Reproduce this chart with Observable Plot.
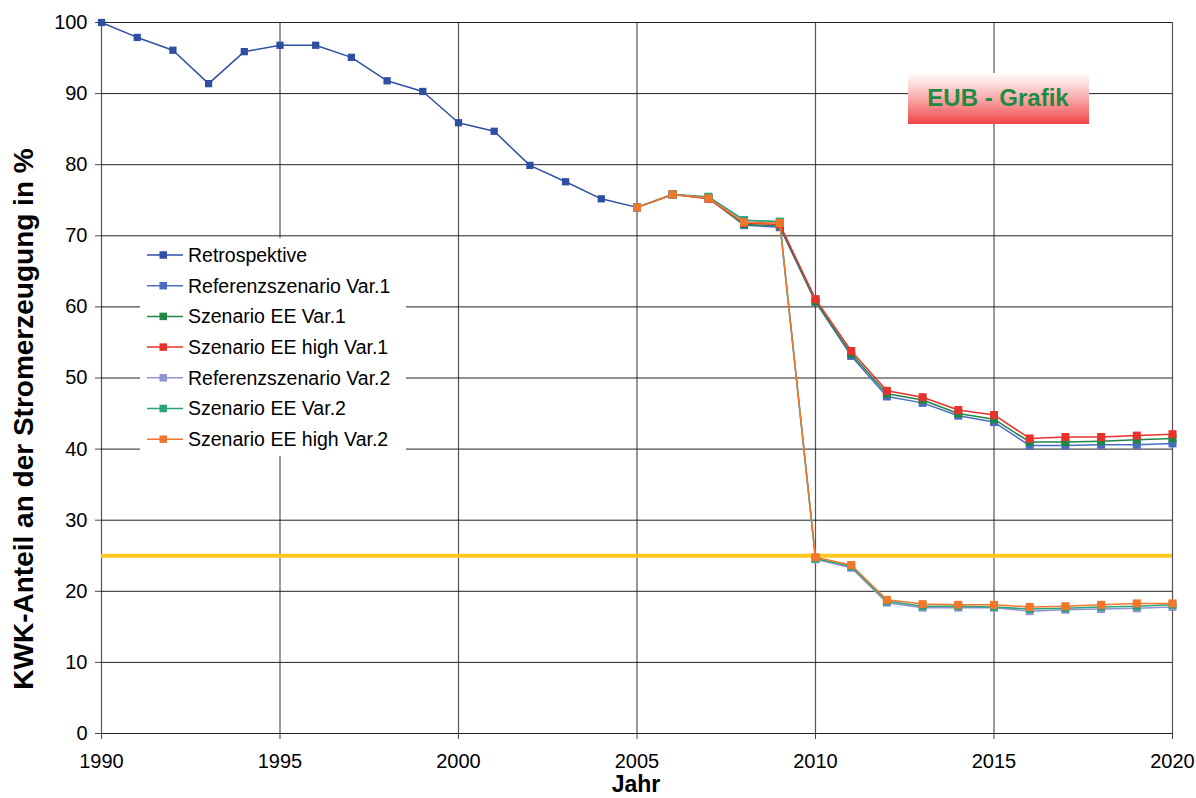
<!DOCTYPE html>
<html>
<head>
<meta charset="utf-8">
<script src="https://cdn.jsdelivr.net/npm/d3@7"></script>
<script src="https://cdn.jsdelivr.net/npm/@observablehq/plot@0.6"></script>
<style>
  html, body { margin: 0; padding: 0; background: #fff; }
  #chart { width: 1196px; height: 798px; }
  #chart svg { display: block; }
</style>
</head>
<body>
<div id="chart"></div>
<script>
// Historical share of CHP (KWK) in electricity generation, 1990–2005
const retroYears = d3.range(1990, 2006);
const retroValues = [100, 97.9, 96.1, 91.4, 95.9, 96.8, 96.8, 95.1, 91.8, 90.3, 85.9, 84.7, 79.9, 77.6, 75.2, 74.0];

// Scenario projections, 2005–2020
const scenarioYears = d3.range(2005, 2021);
const refVar1    = [74.0, 75.8, 75.3, 71.5, 71.2, 60.7, 53.1, 47.4, 46.5, 44.7, 43.8, 40.5, 40.5, 40.6, 40.6, 40.8];
const eeVar1     = [74.0, 75.8, 75.3, 71.6, 71.4, 60.8, 53.4, 47.8, 46.9, 45.0, 44.2, 41.0, 41.0, 41.1, 41.3, 41.5];
const eeHighVar1 = [74.0, 75.8, 75.2, 71.8, 71.6, 61.1, 53.8, 48.2, 47.3, 45.5, 44.8, 41.5, 41.7, 41.7, 41.9, 42.1];
const refVar2    = [74.0, 75.8, 75.4, 72.2, 71.9, 24.5, 23.3, 18.4, 17.7, 17.7, 17.7, 17.2, 17.4, 17.5, 17.6, 17.8];
const eeVar2     = [74.0, 75.8, 75.5, 72.2, 72.0, 24.6, 23.5, 18.6, 17.9, 17.9, 17.8, 17.5, 17.6, 17.8, 17.9, 18.1];
const eeHighVar2 = [74.0, 75.8, 75.3, 71.9, 71.8, 24.8, 23.7, 18.8, 18.2, 18.1, 18.1, 17.8, 17.9, 18.1, 18.3, 18.3];

// Target level (horizontal reference line)
const targetLevel = 25;

const seriesNames = [
  "Retrospektive",
  "Referenzszenario Var.1",
  "Szenario EE Var.1",
  "Szenario EE high Var.1",
  "Referenzszenario Var.2",
  "Szenario EE Var.2",
  "Szenario EE high Var.2"
];
const seriesColors = ["#2f4fa3", "#4a6cc2", "#1f8745", "#e8332c", "#9095d2", "#2aa57a", "#f2772a"];
const seriesValues = [retroValues, refVar1, eeVar1, eeHighVar1, refVar2, eeVar2, eeHighVar2];
const seriesYears  = [retroYears, scenarioYears, scenarioYears, scenarioYears, scenarioYears, scenarioYears, scenarioYears];

const xTicks = d3.range(1990, 2021, 5);
const yTicks = d3.range(0, 101, 10);

// Long table: one row per series and year
const rows = seriesNames.flatMap((name, i) =>
  seriesValues[i].map((v, j) => ({series: name, year: seriesYears[i][j], value: v}))
);

const color = {domain: seriesNames, range: seriesColors};
const font = "'Liberation Sans', Arial, sans-serif";

const chart = Plot.plot({
  width: 1196,
  height: 798,
  marginLeft: 101,
  marginRight: 24,
  marginTop: 22,
  marginBottom: 65,
  style: {fontFamily: font, fontSize: "20px", color: "#000", background: "#fff"},
  x: {domain: [1990, 2020], ticks: xTicks, tickFormat: "d", label: null},
  y: {domain: [0, 100], ticks: yTicks, label: null},
  color,
  marks: [
    Plot.gridX(xTicks, {stroke: "#555", strokeOpacity: 1, strokeWidth: 1.2}),
    Plot.gridY(yTicks, {stroke: "#222", strokeOpacity: 1, strokeWidth: 1}),
    Plot.axisX(xTicks, {tickSize: 6, tickPadding: 14, stroke: "#444", fontSize: 20, tickFormat: "d"}),
    Plot.axisY(yTicks, {tickSize: 6, tickPadding: 8, stroke: "#444", fontSize: 20}),
    Plot.ruleY([targetLevel], {stroke: "#ffc620", strokeWidth: 4}),
    ...seriesNames.map((name, i) => {
      const data = rows.filter(d => d.series === name);
      return [
        Plot.line(data, {x: "year", y: "value", stroke: seriesColors[i], strokeWidth: 1.5}),
        Plot.dot(data, {x: "year", y: "value", symbol: "square", r: i === 0 ? 4.1 : 4.5,
          fill: seriesColors[i], stroke: "none"})
      ];
    })
  ]
});

document.getElementById("chart").appendChild(chart);

const svg = d3.select(chart);

// Axis titles
svg.append("text")
  .attr("transform", "translate(33,419) rotate(-90)")
  .attr("text-anchor", "middle")
  .attr("font-family", font)
  .attr("font-weight", "bold")
  .attr("font-size", 28)
  .attr("fill", "#000")
  .text("KWK-Anteil an der Stromerzeugung in %");

svg.append("text")
  .attr("x", 636)
  .attr("y", 792)
  .attr("text-anchor", "middle")
  .attr("font-family", font)
  .attr("font-weight", "bold")
  .attr("font-size", 23)
  .attr("fill", "#000")
  .text("Jahr");

// Legend panel
const legend = svg.append("g").attr("text-anchor", "start");
legend.append("rect")
  .attr("x", 140).attr("y", 238).attr("width", 266).attr("height", 218)
  .attr("fill", "#fff");
seriesNames.forEach((name, i) => {
  const cy = 255 + i * 30.7;
  const g = legend.append("g");
  g.append("line")
    .attr("x1", 147).attr("x2", 183).attr("y1", cy).attr("y2", cy)
    .attr("stroke", seriesColors[i]).attr("stroke-width", 1.5);
  g.append("rect")
    .attr("x", 159.5).attr("y", cy - 3.75).attr("width", 7.5).attr("height", 7.5)
    .attr("fill", seriesColors[i]);
  g.append("text")
    .attr("x", 188).attr("y", cy).attr("dy", "0.35em")
    .attr("text-anchor", "start")
    .attr("font-family", font).attr("font-size", 19.5).attr("fill", "#000")
    .text(name);
});

// Badge
const defs = svg.append("defs");
const grad = defs.append("linearGradient")
  .attr("id", "badgeGrad").attr("x1", 0).attr("x2", 0).attr("y1", 0).attr("y2", 1);
grad.append("stop").attr("offset", "0%").attr("stop-color", "#ffffff");
grad.append("stop").attr("offset", "45%").attr("stop-color", "#f9b4b4");
grad.append("stop").attr("offset", "100%").attr("stop-color", "#f14545");
svg.append("rect")
  .attr("x", 908).attr("y", 73).attr("width", 181).attr("height", 51)
  .attr("fill", "url(#badgeGrad)");
svg.append("text")
  .attr("x", 998).attr("y", 98).attr("dy", "0.35em")
  .attr("text-anchor", "middle")
  .attr("font-family", font).attr("font-weight", "bold").attr("font-size", 24)
  .attr("fill", "#1f8a42")
  .text("EUB - Grafik");
</script>
</body>
</html>
